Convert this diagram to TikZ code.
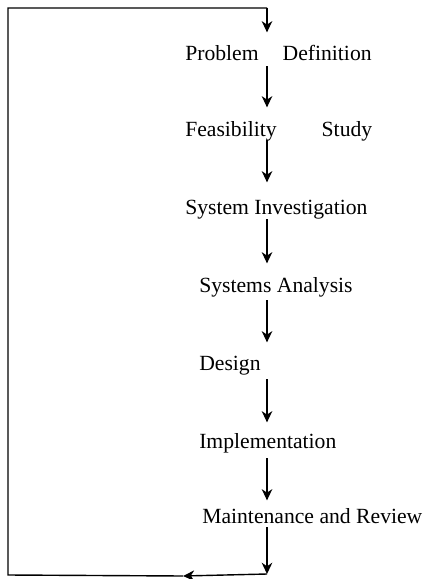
\documentclass[tikz,border=0pt]{standalone}
\usepackage{fontspec}
\setmainfont{Liberation Serif}
\usetikzlibrary{arrows.meta}

\tikzset{
    stage/.style={anchor=base west, inner sep=0pt, text height=10.2pt, text depth=0pt,
        font=\fontsize{15.4pt}{18pt}\selectfont},
    wire/.style={line width=1pt},
    flow/.style={wire, -{Stealth[length=8pt, width=7.5pt, inset=2.5pt]}}
}

\begin{document}
\begin{tikzpicture}
    \useasboundingbox (0,0) rectangle (10.65,-14.475);

    \coordinate (col) at (6.675, 0);
    \coordinate (tl) at (0.2, -0.2);
    \coordinate (tr) at (6.675, -0.2);
    \coordinate (bl) at (0.2, -14.375);
    \coordinate (bm) at (4.575, -14.4);
    \coordinate (br) at (6.675, -14.35);

    \node [stage] (pd) at (4.625, -1.525) {Problem\hspace{0.6cm}Definition};
    \node [stage] (fs) at (4.625, -3.425) {Feasibility\hspace{1.125cm}Study};
    \node [stage] (si) at (4.625, -5.375) {System Investigation};
    \node [stage] (sa) at (4.975, -7.325) {Systems Analysis};
    \node [stage] (de) at (4.975, -9.25) {Design};
    \node [stage] (im) at (4.975, -11.2) {Implementation};
    \node [stage] (mr) at (5.05, -13.075) {Maintenance and Review};

    % feedback loop
    \draw [wire] (bm) -- (bl) -- (tl) -- (tr);
    \draw [flow, shorten >=0.35cm] (tr) -- (pd.north -| col);

    \foreach \a/\b/\s/\e in {pd/fs/0.125/0.375, fs/si/0.075/0.45, si/sa/0.1/0.375,
                             sa/de/0.175/0.325, de/im/0.225/0.275, im/mr/0.25/0.2}
        \draw [flow, shorten <=\s cm, shorten >=\e cm] (\a.south -| col) -- (\b.north -| col);

    \draw [flow, shorten <=0.1cm] (mr.south -| col) -- (br);
    \draw [flow] (br) -- (bm);
\end{tikzpicture}
\end{document}
